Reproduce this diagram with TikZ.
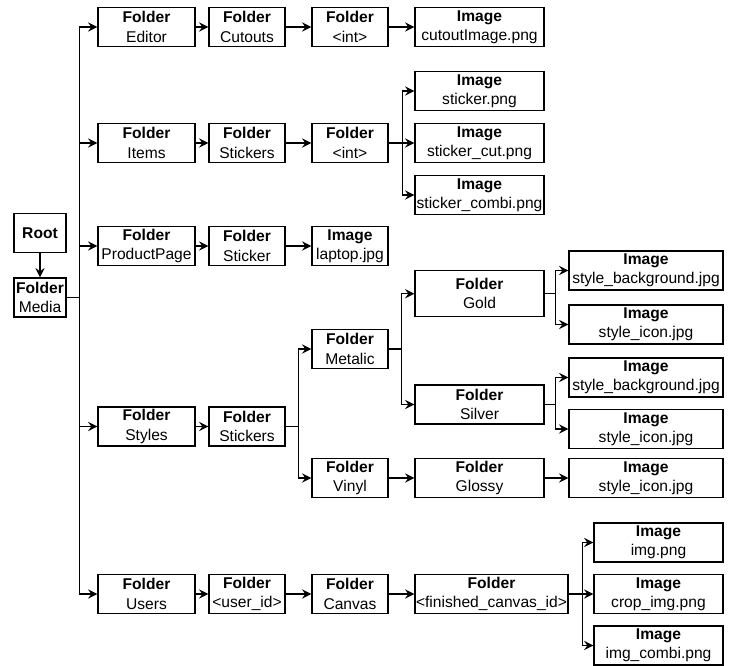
\documentclass[tikz,border=0pt]{standalone}
\usepackage{fontspec}
\setmainfont{Liberation Sans}
\usetikzlibrary{arrows.meta,positioning}

\newcommand{\fldr}[1]{\textbf{Folder}\\#1}
\newcommand{\imgf}[1]{\textbf{Image}\\#1}

\begin{document}
\begin{tikzpicture}[x=0.75pt, y=-0.75pt,
  box/.style={draw, line width=1pt, minimum height=29.25pt, inner sep=0.5pt, align=center, font=\fontsize{11.7}{14.4}\selectfont},
  rootbox/.style={box, minimum width=39pt},
  wa/.style={box, minimum width=72.75pt},
  wb/.style={box, minimum width=57pt},
  wc/.style={box, minimum width=96.75pt},
  wd/.style={box, minimum width=115.5pt},
  arrow/.style={-{Stealth[length=7pt,width=7pt,inset=2.5pt]}, line width=1pt}
]
  \useasboundingbox (0,0) rectangle (732,665);

  % root
  \node[rootbox] (root)  at (40,233)   {\textbf{Root}};
  \node[rootbox] (media) at (40,297.5) {\fldr{Media}};

  % Editor
  \node[wa] (editor)  at (146.5,27) {\fldr{Editor}};
  \node[wb] (cutouts) at (247,27)   {\fldr{Cutouts}};
  \node[wb] (cutint)  at (350,27)   {\fldr{<int>}};
  \node[wc] (cutimg)  at (479.5,27) {\imgf{cutoutImage.png}};

  % Items
  \node[wa] (items)    at (146.5,143) {\fldr{Items}};
  \node[wb] (stickers) at (247,143)   {\fldr{Stickers}};
  \node[wb] (itemint)  at (350,143)   {\fldr{<int>}};
  \node[wc] (stk)      at (479.5,91)  {\imgf{sticker.png}};
  \node[wc] (stkcut)   at (479.5,143) {\imgf{sticker\_cut.png}};
  \node[wc] (stkcombi) at (479.5,195) {\imgf{sticker\_combi.png}};

  % ProductPage
  \node[wa] (product) at (146.5,246) {\fldr{ProductPage}};
  \node[wb] (sticker) at (247,246)   {\fldr{Sticker}};
  \node[wb] (laptop)  at (350,246)   {\imgf{laptop.jpg}};

  % Styles
  \node[wa] (styles)     at (146.5,426.5) {\fldr{Styles}};
  \node[wb] (stylestk)   at (247,426.5)   {\fldr{Stickers}};
  \node[wb] (metalic)    at (350,349)     {\fldr{Metalic}};
  \node[wb] (vinyl)      at (350,478)     {\fldr{Vinyl}};
  \node[wc, minimum height=34.5pt] (gold) at (479.5,293.7) {\fldr{Gold}};
  \node[wc] (silver)     at (479.5,404.5) {\fldr{Silver}};
  \node[wc] (glossy)     at (479.5,478)   {\fldr{Glossy}};
  \node[wd] (goldbg)     at (646,270.5)   {\imgf{style\_background.jpg}};
  \node[wd] (goldicon)   at (646,324.5)   {\imgf{style\_icon.jpg}};
  \node[wd] (silverbg)   at (646,377.5)   {\imgf{style\_background.jpg}};
  \node[wd] (silvericon) at (646,429)     {\imgf{style\_icon.jpg}};
  \node[wd] (glossyicon) at (646,478)     {\imgf{style\_icon.jpg}};

  % Users
  \node[wa] (users)    at (146.5,594) {\fldr{Users}};
  \node[wb] (userid)   at (247,594)   {\fldr{<user\_id>}};
  \node[wb] (canvas)   at (350,594)   {\fldr{Canvas}};
  \node[box, minimum width=114.75pt] (finished) at (491.5,594) {\fldr{<finished\_canvas\_id>}};
  \node[wc] (imgpng)   at (658.5,542.5) {\imgf{img.png}};
  \node[wc] (cropimg)  at (658.5,594)   {\imgf{crop\_img.png}};
  \node[wc] (imgcombi) at (658.5,645.5) {\imgf{img\_combi.png}};

  \draw[arrow] (root) -- (media);
  \foreach \n in {editor,items,product,styles,users}
    \draw[arrow] (media.east) -- ++(13,0) |- (\n.west);
  \foreach \a/\b in {editor/cutouts,cutouts/cutint,cutint/cutimg,items/stickers,stickers/itemint,
                     product/sticker,sticker/laptop,styles/stylestk,vinyl/glossy,glossy/glossyicon,
                     users/userid,userid/canvas,canvas/finished}
    \draw[arrow] (\a) -- (\b);
  \foreach \a/\b/\d in {itemint/stk/14,itemint/stkcut/14,itemint/stkcombi/14,
                        stylestk/metalic/13,stylestk/vinyl/13,metalic/gold/13,metalic/silver/13,
                        gold/goldbg/11,gold/goldicon/11,silver/silverbg/11,silver/silvericon/11,
                        finished/imgpng/14,finished/cropimg/14,finished/imgcombi/14}
    \draw[arrow] (\a.east) -- ++(\d,0) |- (\b.west);
\end{tikzpicture}
\end{document}
